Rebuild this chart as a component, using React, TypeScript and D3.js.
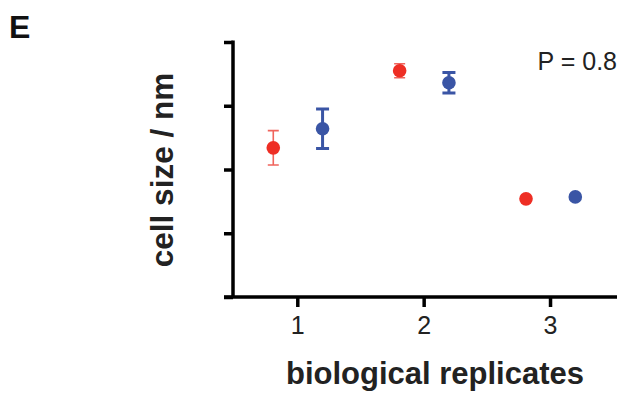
import React, { useRef, useEffect, useCallback } from 'react';
import * as d3 from 'd3';

// replicate numbers on the x axis
const replicates = [1, 2, 3];
// red series (mean, error)
const redMeans = [2.34, 3.55, 1.54];
const redErrors = [0.27, 0.11, 0.02];
// blue series (mean, error)
const blueMeans = [2.64, 3.36, 1.57];
const blueErrors = [0.31, 0.16, 0.03];
// y ticks have no labels
const yTicks = [0, 1, 2, 3, 4];

const FONT = '"Liberation Sans", Arial, Helvetica, sans-serif';
const RED = '#ee2e24';
const RED_BAR = '#f0645c';
const BLUE = '#3a55a5';

const App = ({ width = 623, height = 396 }) => {
  const svgRef = useRef<SVGSVGElement>(null);

  const drawChart = useCallback((el: SVGSVGElement) => {
    const svg = d3.select(el);
    svg.selectAll('*').remove();

    const x = d3.scaleLinear().domain([0.42, 3.53]).range([224, 617]);
    const y = d3.scaleLinear().domain([0, 4]).range([297, 42]);

    // panel letter
    svg.append('text')
      .attr('x', 9)
      .attr('y', 38)
      .text('E')
      .style('font-family', FONT)
      .style('font-weight', 700)
      .style('font-size', '32px')
      .attr('fill', '#111');

    // y axis
    const yAxis = d3.axisLeft(y)
      .tickValues(yTicks)
      .tickSize(9)
      .tickFormat(() => '');
    const gy = svg.append('g')
      .attr('transform', `translate(${233},0)`)
      .call(yAxis);
    gy.select('.domain')
      .attr('d', `M0,${y(4) - 1.5}V${y(0)}`)
      .attr('stroke', '#000')
      .attr('stroke-width', 3.5);
    gy.selectAll('.tick line').attr('stroke', '#000').attr('stroke-width', 3.5);

    // x axis
    const xAxis = d3.axisBottom(x)
      .tickValues(replicates)
      .tickSize(10)
      .tickPadding(9)
      .tickFormat(d3.format('d'));
    const gx = svg.append('g')
      .attr('transform', `translate(0,${297})`)
      .call(xAxis);
    gx.select('.domain')
      .attr('d', `M${224},0H${617}`)
      .attr('stroke', '#000')
      .attr('stroke-width', 3.5);
    gx.selectAll('.tick line').attr('stroke', '#000').attr('stroke-width', 3.5);
    gx.selectAll('.tick text')
      .style('font-family', FONT)
      .style('font-size', '25px')
      .attr('fill', '#222');

    // axis titles
    svg.append('text')
      .attr('transform', `translate(173,170) rotate(-90)`)
      .attr('text-anchor', 'middle')
      .text('cell size / nm')
      .style('font-family', FONT)
      .style('font-weight', 700)
      .style('font-size', '31.5px')
      .attr('fill', '#222');

    svg.append('text')
      .attr('x', 435)
      .attr('y', 384)
      .attr('text-anchor', 'middle')
      .text('biological replicates')
      .style('font-family', FONT)
      .style('font-weight', 700)
      .style('font-size', '31px')
      .attr('fill', '#222');

    svg.append('text')
      .attr('x', 617)
      .attr('y', 70)
      .attr('text-anchor', 'end')
      .text('P = 0.8')
      .style('font-family', FONT)
      .style('font-size', '25px')
      .attr('fill', '#222');

    const series = [
      { means: redMeans, errors: redErrors, offset: -0.19, color: RED, bar: RED_BAR, barWidth: 1.6, cap: 11 },
      { means: blueMeans, errors: blueErrors, offset: 0.2, color: BLUE, bar: BLUE, barWidth: 3, cap: 13 },
    ];

    series.forEach((s) => {
      const rows = replicates.map((r, i) => ({ r, m: s.means[i], e: s.errors[i] }));
      const g = svg.append('g');
      // error bars
      rows.forEach((d) => {
        const cx = x(d.r + s.offset);
        if (d.e < 0.05) return;
        g.append('path')
          .attr('d', `M${cx},${y(d.m + d.e)}V${y(d.m - d.e)}M${cx - s.cap / 2},${y(d.m + d.e)}h${s.cap}M${cx - s.cap / 2},${y(d.m - d.e)}h${s.cap}`)
          .attr('stroke', s.bar)
          .attr('stroke-width', s.barWidth)
          .attr('fill', 'none');
      });
      // points
      g.selectAll('circle')
        .data(rows)
        .enter()
        .append('circle')
        .attr('cx', (d) => x(d.r + s.offset))
        .attr('cy', (d) => y(d.m))
        .attr('r', 6.8)
        .attr('fill', s.color);
    });
  }, []);

  useEffect(() => {
    if (svgRef.current) {
      drawChart(svgRef.current);
    }
  }, [drawChart]);

  return (
    <svg
      ref={svgRef}
      width={width}
      height={height}
      style={{ position: 'absolute', left: 0, top: 0, background: '#fff' }}
    />
  );
};

export default App;
